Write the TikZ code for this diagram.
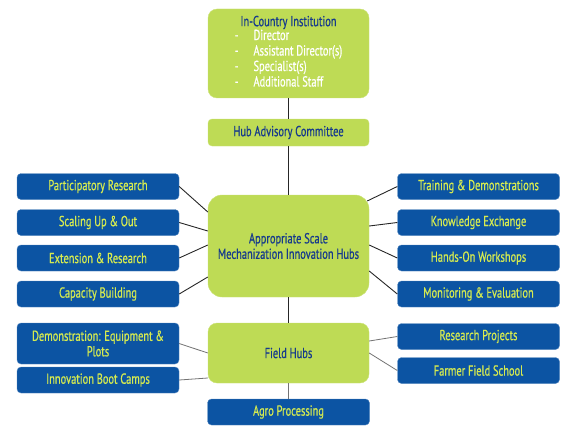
\documentclass[tikz,border=0pt]{standalone}
\usepackage{fontspec}
\setmainfont[FakeStretch=0.72,FakeBold=0.6]{PT Sans}
\definecolor{hubgreen}{RGB}{190,219,85}
\definecolor{hubblue}{RGB}{12,84,163}
\definecolor{hubnavy}{RGB}{22,58,140}
\definecolor{hublime}{RGB}{214,235,80}
\tikzset{
  greenbox/.style={draw=hubgreen!80!white,fill=hubgreen,rounded corners=9pt,minimum width=161pt,text=hubnavy,align=center,inner sep=2pt,font=\fontsize{14.5}{15.5}\selectfont},
  bluebox/.style={draw=hubblue!70!white,fill=hubblue,rounded corners=4pt,minimum width=162pt,minimum height=26pt,text=hublime,align=center,inner sep=2pt,font=\fontsize{14.5}{15.5}\selectfont},
  link/.style={draw=black!85,line width=0.9pt},
  softlink/.style={draw=black!55,line width=0.8pt}
}
\begin{document}
\begin{tikzpicture}[x=1pt,y=-1pt]
\useasboundingbox (0,0) rectangle (577,433);
% central column
\node[greenbox,minimum height=89pt] (inst) at (288.5,53.5) {\textcolor{hubnavy}{In-Country Institution}\\[-1pt]
  {\color{white}\renewcommand{\arraystretch}{1}\begin{tabular}{@{}l@{\hspace{15pt}}l@{}}
  -&Director\\ -&Assistant Director(s)\\ -&Specialist(s)\\ -&Additional Staff\end{tabular}}};
\node[greenbox,rounded corners=4pt,minimum height=27pt] (hac) at (288.5,132.5) {Hub Advisory Committee};
\node[greenbox,rounded corners=14pt,minimum height=102pt] (hubs) at (288.5,246) {Appropriate Scale\\Mechanization Innovation Hubs};
\node[greenbox,rounded corners=9pt,minimum height=60pt] (field) at (288.5,353) {Field Hubs};
\node[bluebox] (agro) at (288.5,412) {Agro Processing};
% left column
\node[bluebox] (pr) at (98,186.5) {Participatory Research};
\node[bluebox] (su) at (98,222.5) {Scaling Up \& Out};
\node[bluebox] (er) at (98,258) {Extension \& Research};
\node[bluebox] (cb) at (98,294) {Capacity Building};
\node[bluebox,minimum height=41pt] (demo) at (98,343.5) {Demonstration: Equipment \&\\Plots};
\node[bluebox] (ibc) at (98,380) {Innovation Boot Camps};
% right column
\node[bluebox] (td) at (478.5,186.5) {Training \& Demonstrations};
\node[bluebox] (ke) at (478.5,222.5) {Knowledge Exchange};
\node[bluebox] (how) at (478.5,258) {Hands-On Workshops};
\node[bluebox] (me) at (478.5,294) {Monitoring \& Evaluation};
\node[bluebox] (rp) at (478.5,336.5) {Research Projects};
\node[bluebox] (ffs) at (478.5,370.5) {Farmer Field School};
% connectors
\draw[link] (inst.south) -- (hac.north);
\draw[link] (hac.south) -- (hubs.north);
\draw[link] (hubs.south) -- (field.north);
\draw[softlink] (field.south) -- (agro.north);
\draw[link] (pr.east) -- ([yshift=34pt]hubs.west);
\draw[link] (su.east) -- ([yshift=15pt]hubs.west);
\draw[link] (er.east) -- ([yshift=1pt]hubs.west);
\draw[link] (cb.east) -- ([yshift=-31pt]hubs.west);
\draw[link] (td.west) -- ([xshift=-2pt,yshift=45pt]hubs.east);
\draw[link] (ke.west) -- ([yshift=20pt]hubs.east);
\draw[link] (how.west) -- ([yshift=1pt]hubs.east);
\draw[link] (me.west) -- ([yshift=-25pt]hubs.east);
\draw[softlink] (demo.east) -- ([yshift=0pt]field.west);
\draw[softlink] (ibc.east) -- ([yshift=-25pt]field.west);
\draw[softlink] (rp.west) -- ([yshift=12pt]field.east);
\draw[softlink] (ffs.west) -- ([yshift=0pt]field.east);
\end{tikzpicture}
\end{document}
